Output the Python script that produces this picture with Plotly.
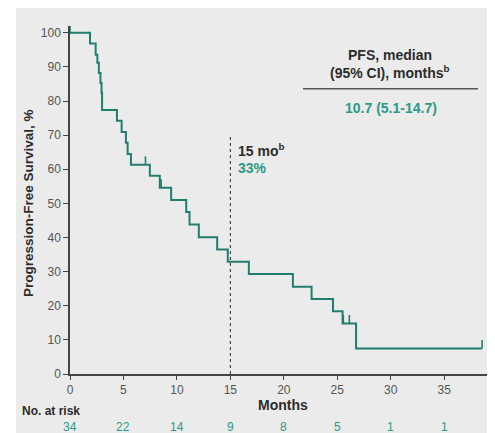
import plotly.graph_objects as go

# ---- data ----
times = [0, 1.87, 2.40, 2.56, 2.70, 2.85, 2.95, 3.0, 4.39, 4.83, 5.23, 5.39, 5.70, 7.47, 8.40,
         9.46, 10.87, 11.18, 12.05, 13.77, 14.76, 16.73, 20.85, 22.60, 24.60, 25.50, 26.76, 38.55]
surv = [100, 96.9, 93.6, 91.2, 88.2, 85.3, 82.4, 77.4, 74.2, 70.9, 67.8, 64.5, 61.3, 58.1, 54.6,
        51.0, 47.5, 43.8, 40.1, 36.5, 32.9, 29.3, 25.6, 22.0, 18.4, 14.8, 7.5, 7.5]
censor_t = [0, 7.06, 8.53, 25.57, 26.13, 38.55]
censor_s = [100, 61.3, 54.6, 14.8, 14.8, 7.5]
x_ticks = [0, 5, 10, 15, 20, 25, 30, 35, 40]
y_ticks = [0, 10, 20, 30, 40, 50, 60, 70, 80, 90, 100]
at_risk = ["34", "22", "14", "9", "8", "5", "1", "1", "0"]
landmark_month = 15
landmark_pct = "33%"
median_text = "10.7 (5.1-14.7)"

LINE = "#1f7f6f"
TEAL = "#2a9a86"
DARK = "#2b2b2b"
GRAY = "#555555"
BG = "#ebebeb"
FONT = "Arial, Liberation Sans, sans-serif"

# the page body adds an 8px margin, so the figure is laid out 8px smaller
W, H = 487, 425
L, R, T, B = 62, 0, 18, 59
PW, PH = W - L - R, H - T - B
XMAX = PW / 10.69
YMAX = 102


# helpers take window-pixel positions (as measured on the reference)
def px_x(p):
    return (p - 8 - L) / PW


def px_y(p):
    return (H - B - (p - 8)) / PH


fig = go.Figure()

fig.add_trace(go.Scatter(x=times, y=surv, mode="lines", line=dict(color=LINE, width=2, shape="hv"),
                         hoverinfo="skip", showlegend=False))

cx, cy = [], []
for t, s in zip(censor_t, censor_s):
    cx += [t, t, None]
    cy += [s, s + 2.5, None]
fig.add_trace(go.Scatter(x=cx, y=cy, mode="lines", line=dict(color=LINE, width=1.6),
                         hoverinfo="skip", showlegend=False))

# landmark dotted line
fig.add_trace(go.Scatter(x=[landmark_month, landmark_month], y=[0, 69.6], mode="lines",
                         line=dict(color=DARK, width=1, dash="dot"), hoverinfo="skip", showlegend=False))

shapes = [
    # white band on the left (outer border of the slide)
    dict(type="rect", xref="paper", yref="paper", x0=px_x(8), x1=px_x(16), y0=px_y(H + 8), y1=px_y(8),
         fillcolor="white", line_width=0, layer="below"),
    # line under the header of the PFS table
    dict(type="line", xref="paper", yref="paper", x0=px_x(303), x1=px_x(478), y0=px_y(88.7), y1=px_y(88.7),
         line=dict(color=GRAY, width=1.5)),
]

ann = []
ann.append(dict(text="<b>Progression-Free Survival, %</b>", xref="paper", yref="paper",
                x=px_x(28), y=px_y(203), textangle=-90, showarrow=False,
                font=dict(size=13.5, color=DARK, family=FONT), xanchor="center", yanchor="middle"))
ann.append(dict(text="<b>Months</b>", xref="paper", yref="paper", x=px_x(283), y=px_y(405),
                showarrow=False, font=dict(size=14, color=DARK, family=FONT), xanchor="center", yanchor="middle"))
ann.append(dict(text="<b>No. at risk</b>", xref="paper", yref="paper", x=px_x(20), y=px_y(411),
                showarrow=False, font=dict(size=12, color=DARK, family=FONT), xanchor="left", yanchor="middle"))
for xv, n in zip(x_ticks, at_risk):
    ann.append(dict(text=n, xref="paper", yref="paper", x=xv / XMAX, y=px_y(427), showarrow=False,
                    font=dict(size=12, color=TEAL, family=FONT), xanchor="center", yanchor="middle"))
# 40 tick label falls just past the right edge
ann.append(dict(text=str(x_ticks[-1]), xref="paper", yref="paper", x=x_ticks[-1] / XMAX, y=px_y(390),
                showarrow=False, font=dict(size=12, color=GRAY, family=FONT), xanchor="center", yanchor="middle"))
ann.append(dict(text="<b>15 mo<sup>b</sup></b>", xref="paper", yref="paper", x=px_x(236), y=px_y(150),
                showarrow=False, font=dict(size=14, color=DARK, family=FONT), xanchor="left", yanchor="middle"))
ann.append(dict(text="<b>" + landmark_pct + "</b>", xref="paper", yref="paper", x=px_x(236), y=px_y(168),
                showarrow=False, font=dict(size=14, color=TEAL, family=FONT), xanchor="left", yanchor="middle"))
ann.append(dict(text="<b>PFS, median</b>", xref="paper", yref="paper", x=px_x(390), y=px_y(55),
                showarrow=False, font=dict(size=14, color=DARK, family=FONT), xanchor="center", yanchor="middle"))
ann.append(dict(text="<b>(95% CI), months<sup>b</sup></b>", xref="paper", yref="paper", x=px_x(390), y=px_y(72),
                showarrow=False, font=dict(size=14, color=DARK, family=FONT), xanchor="center", yanchor="middle"))
ann.append(dict(text="<b>" + median_text + "</b>", xref="paper", yref="paper", x=px_x(391), y=px_y(108),
                showarrow=False, font=dict(size=14, color=TEAL, family=FONT), xanchor="center", yanchor="middle"))

fig.update_layout(
    width=W, height=H, margin=dict(l=L, r=R, t=T, b=B, pad=0, autoexpand=False),
    paper_bgcolor=BG, plot_bgcolor=BG,
    shapes=shapes, annotations=ann, showlegend=False,
    font=dict(family=FONT),
    xaxis=dict(range=[0, XMAX], tickvals=x_ticks, showgrid=False, zeroline=False, automargin=False,
               showline=True, linecolor="#444", linewidth=1.5, ticks="outside", ticklen=4,
               tickcolor="#444", tickwidth=1.2, tickfont=dict(size=12, color=GRAY, family=FONT)),
    yaxis=dict(range=[0, YMAX], tickvals=y_ticks, showgrid=False, zeroline=False, automargin=False,
               showline=True, linecolor="#444", linewidth=1.5, ticks="outside", ticklen=5,
               tickcolor="#444", tickwidth=1.2, tickfont=dict(size=12, color=GRAY, family=FONT)),
)

fig.write_html("out.html")
